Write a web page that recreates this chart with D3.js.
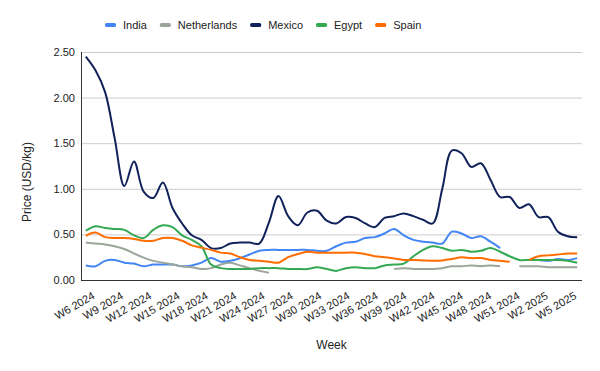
<!DOCTYPE html>
<html>
<head>
<meta charset="utf-8">
<script src="https://cdn.jsdelivr.net/npm/d3@7"></script>
<style>
  body { margin: 0; background: #fff; }
  svg { display: block; font-family: "Liberation Sans", Arial, sans-serif; }
</style>
</head>
<body>
<div id="chart"></div>
<script>
// weekly prices per origin, USD/kg (null = no data that week)
const weeks = ["W6 2024","W7 2024","W8 2024","W9 2024","W10 2024","W11 2024","W12 2024","W13 2024",
  "W14 2024","W15 2024","W16 2024","W17 2024","W18 2024","W19 2024","W20 2024","W21 2024",
  "W22 2024","W23 2024","W24 2024","W25 2024","W26 2024","W27 2024","W28 2024","W29 2024",
  "W30 2024","W31 2024","W32 2024","W33 2024","W34 2024","W35 2024","W36 2024","W37 2024",
  "W38 2024","W39 2024","W40 2024","W41 2024","W42 2024","W43 2024","W44 2024","W45 2024",
  "W46 2024","W47 2024","W48 2024","W49 2024","W50 2024","W51 2024","W52 2024",
  "W1 2025","W2 2025","W3 2025","W4 2025","W5 2025"]

const tickLabels = ["W6 2024","W9 2024","W12 2024","W15 2024","W18 2024","W21 2024","W24 2024",
  "W27 2024","W30 2024","W33 2024","W36 2024","W39 2024","W42 2024","W45 2024","W48 2024",
  "W51 2024","W2 2025","W5 2025"]

const yTicks = [0, 0.5, 1, 1.5, 2, 2.5]

const india = [0.16,0.15,0.21,0.22,0.19,0.18,0.15,0.17,0.17,0.17,0.15,0.16,0.19,0.24,0.20,0.21,
  0.24,0.28,0.32,0.33,0.33,0.33,0.33,0.33,0.32,0.32,0.37,0.41,0.42,0.46,0.47,0.51,
  0.56,0.49,0.44,0.42,0.41,0.40,0.53,0.51,0.46,0.48,0.42,0.35,null,null,0.22,
  0.22,0.21,0.23,0.22,0.24]

const netherlands = [0.41,0.40,0.39,0.37,0.34,0.29,0.245,0.21,0.19,0.17,0.15,0.14,0.12,0.13,0.17,0.19,
  0.16,0.13,0.10,0.08,null,null,null,null,null,null,null,null,null,null,null,null,
  0.12,0.13,0.12,0.12,0.12,0.13,0.15,0.15,0.16,0.15,0.16,0.15,null,0.15,0.15,
  0.15,0.14,0.14,0.14,0.14]

const mexico = [2.45,2.30,2.06,1.55,1.03,1.30,0.97,0.90,1.07,0.79,0.62,0.49,0.44,0.35,0.35,0.40,
  0.41,0.41,0.40,0.63,0.92,0.70,0.60,0.74,0.76,0.65,0.62,0.69,0.68,0.62,0.58,0.68,
  0.70,0.73,0.70,0.66,0.62,1.00,1.42,1.39,1.24,1.28,1.10,0.91,0.91,0.79,0.83,
  0.69,0.69,0.53,0.48,0.47]

const egypt = [0.54,0.59,0.57,0.56,0.55,0.49,0.46,0.55,0.60,0.58,0.49,0.44,0.37,0.17,0.13,0.12,
  0.12,0.12,0.13,0.13,0.13,0.12,0.12,0.12,0.14,0.12,0.10,0.13,0.14,0.13,0.13,0.16,
  0.17,0.18,0.26,0.33,0.37,0.35,0.32,0.33,0.31,0.32,0.35,0.31,0.26,0.22,0.22,
  0.22,0.22,0.22,0.21,0.19]

const spain = [0.485,0.52,0.47,0.46,0.46,0.45,0.43,0.43,0.46,0.46,0.43,0.38,0.355,0.33,0.30,0.29,
  0.25,0.22,0.21,0.20,0.19,0.25,0.285,0.31,0.30,0.30,0.30,0.30,0.30,0.285,0.26,0.25,
  0.235,0.22,0.22,0.215,0.21,0.215,0.23,0.25,0.24,0.24,0.22,0.21,0.20,null,0.22,
  0.26,0.27,0.28,0.29,0.29]

const seriesNames = ["India", "Netherlands", "Mexico", "Egypt", "Spain"]
const seriesValues = [india, netherlands, mexico, egypt, spain]
const seriesColors = ["#4285f4", "#9ba59a", "#11225a", "#34a853", "#ff6d01"]

const W = 600, H = 371
const plot = {left: 81, right: 582, top: 52, bottom: 280}

const svg = d3.select("#chart").append("svg")
    .attr("width", W)
    .attr("height", H)

svg.append("rect").attr("width", W).attr("height", H).attr("fill", "#fff")

const x = d3.scalePoint().domain(weeks).range([plot.left, plot.right]).padding(0.5)
const y = d3.scaleLinear().domain([0, 2.5]).range([plot.bottom, plot.top])

// gridlines
svg.append("g")
    .selectAll("line")
    .data(yTicks.filter(d => d > 0))
    .enter().append("line")
    .attr("x1", plot.left).attr("x2", plot.right)
    .attr("y1", d => y(d) + 0.5).attr("y2", d => y(d) + 0.5)
    .style("stroke", "#cccccc")
    .style("stroke-width", 1)

// y tick labels
svg.append("g")
    .selectAll("text")
    .data(yTicks)
    .enter().append("text")
    .attr("x", plot.left - 6)
    .attr("y", d => y(d) + 4)
    .attr("text-anchor", "end")
    .style("font-size", "11px")
    .style("fill", "#222")
    .text(d => d3.format(".2f")(d))

// series lines
const line = d3.line()
    .defined(d => d.v != null)
    .x(d => x(d.w))
    .y(d => y(d.v))
    .curve(d3.curveCatmullRom.alpha(0.5))

svg.append("g")
    .selectAll("path")
    .data(seriesValues.map((vals, k) => ({name: seriesNames[k], color: seriesColors[k],
        pts: vals.map((v, i) => ({w: weeks[i], v: v}))})))
    .enter().append("path")
    .attr("d", d => line(d.pts))
    .style("fill", "none")
    .style("stroke", d => d.color)
    .style("stroke-width", 2)
    .style("stroke-linejoin", "round")

// axis lines
svg.append("line")
    .attr("x1", plot.left + 0.5).attr("x2", plot.left + 0.5)
    .attr("y1", plot.top).attr("y2", plot.bottom)
    .style("stroke", "#333").style("stroke-width", 1)
svg.append("line")
    .attr("x1", plot.left).attr("x2", plot.right)
    .attr("y1", plot.bottom + 0.5).attr("y2", plot.bottom + 0.5)
    .style("stroke", "#333").style("stroke-width", 1)

// slanted week labels
const xt = d3.scalePoint().domain(tickLabels).range([95.6, 577.2])
svg.append("g")
    .selectAll("text")
    .data(tickLabels)
    .enter().append("text")
    .attr("transform", d => "translate(" + xt(d) + ",298) rotate(-30)")
    .attr("text-anchor", "end")
    .style("font-size", "11px")
    .style("fill", "#222")
    .text(d => d)

// axis titles
svg.append("text")
    .attr("x", (plot.left + plot.right) / 2)
    .attr("y", 349)
    .attr("text-anchor", "middle")
    .style("font-size", "12px")
    .style("fill", "#222")
    .text("Week")

svg.append("text")
    .attr("transform", "translate(31,182) rotate(-90)")
    .attr("text-anchor", "middle")
    .style("font-size", "12px")
    .style("fill", "#222")
    .text("Price (USD/kg)")

// legend
const legend = svg.append("g")
let lx = 105
seriesNames.forEach((name, k) => {
    legend.append("rect")
        .attr("x", lx).attr("y", 23)
        .attr("width", 11).attr("height", 4)
        .attr("rx", 1.5)
        .style("fill", seriesColors[k])
    const t = legend.append("text")
        .attr("x", lx + 18).attr("y", 29)
        .style("font-size", "11px")
        .style("fill", "#222")
        .text(name)
    lx += 18 + t.node().getComputedTextLength() + 13
})
</script>
</body>
</html>
